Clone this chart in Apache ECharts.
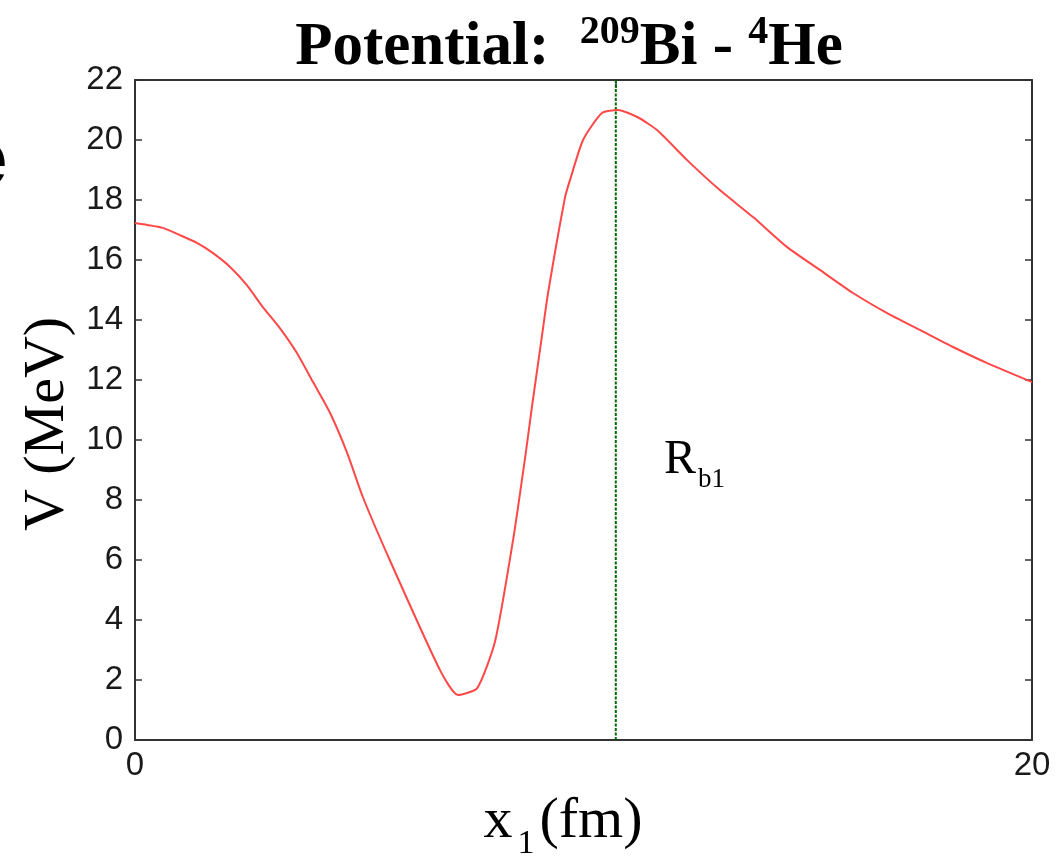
<!DOCTYPE html>
<html>
<head>
<meta charset="utf-8">
<script src="https://cdn.jsdelivr.net/npm/echarts@6/dist/echarts.min.js"></script>
<style>html,body{margin:0;padding:0;background:#fff}#c{width:1060px;height:864px}</style>
</head>
<body>
<div id="c"></div>
<script>
// Potential V(x1) for 209Bi - 4He
const xValues = [0, 0.27, 0.62, 1.0, 1.38, 1.74, 2.12, 2.49, 2.85, 3.23, 3.61, 3.97, 4.35, 4.73, 5.08, 5.68, 6.8, 7.2, 7.63, 8.03, 8.43, 8.70, 8.85, 9.07, 9.21, 9.59, 9.70, 9.99, 10.41, 10.77, 11.22, 11.64, 12.31, 13.04, 13.78, 14.54, 15.27, 16.01, 16.77, 17.5, 18.24, 18.99, 20];
const vValues = [17.23, 17.17, 17.07, 16.83, 16.57, 16.23, 15.77, 15.17, 14.43, 13.73, 12.9, 11.93, 10.9, 9.57, 8.1, 6.0, 2.33, 1.5, 1.73, 3.3, 6.67, 9.43, 11.1, 13.43, 14.9, 18.1, 18.67, 20.0, 20.9, 21.0, 20.75, 20.33, 19.33, 18.33, 17.43, 16.43, 15.67, 14.9, 14.23, 13.67, 13.1, 12.57, 11.93];
const barrierX = [10.72];
const yRange = [0, 22];
const xTickLabels = [0, 20];

const curve = xValues.map((x, i) => [x, vValues[i]]);
const barrierLine = [[barrierX[0], yRange[0]], [barrierX[0], yRange[1]]];

const chart = echarts.init(document.getElementById('c'));
const axisColor = '#333';
chart.setOption({
  backgroundColor: '#fff',
  animation: false,
  title: {
    left: 564, textAlign: 'center', top: 8,
    text: '{a|Potential:  }{s|209}{a|Bi - }{s|4}{a|He}',
    textStyle: {
      rich: {
        a: {fontFamily: 'Liberation Serif', fontWeight: 'bold', fontSize: 61, color: '#000', lineHeight: 66, verticalAlign: 'bottom'},
        s: {fontFamily: 'Liberation Serif', fontWeight: 'bold', fontSize: 40, color: '#000', lineHeight: 66, verticalAlign: 'top', padding: [0, 0, 24, 0]}
      }
    }
  },
  grid: {left: 135, top: 80, right: 28, bottom: 124, containLabel: false},
  xAxis: [{
    type: 'value', min: 0, max: 20, interval: 20,
    axisLine: {show: true, onZero: false, lineStyle: {color: axisColor, width: 2}},
    axisTick: {show: false},
    splitLine: {show: false},
    axisLabel: {fontFamily: 'Liberation Sans', fontSize: 33, color: '#1a1a1a', margin: 9,
      customValues: xTickLabels}
  }, {
    type: 'value', min: 0, max: 20, position: 'top',
    axisLine: {show: true, onZero: false, lineStyle: {color: axisColor, width: 2}},
    axisTick: {show: true, inside: true, length: 8, lineStyle: {color: axisColor, width: 1.5}, customValues: barrierX},
    axisLabel: {show: false},
    splitLine: {show: false}
  }],
  yAxis: [{
    type: 'value', min: yRange[0], max: yRange[1], interval: 2,
    axisLine: {show: true, onZero: false, lineStyle: {color: axisColor, width: 2}},
    axisTick: {show: true, inside: true, length: 7, lineStyle: {color: axisColor, width: 1.5}},
    splitLine: {show: false},
    axisLabel: {fontFamily: 'Liberation Sans', fontSize: 33, color: '#1a1a1a', margin: 12}
  }, {
    type: 'value', min: yRange[0], max: yRange[1], interval: 2, position: 'right',
    axisLine: {show: true, onZero: false, lineStyle: {color: axisColor, width: 2}},
    axisTick: {show: true, inside: true, length: 7, lineStyle: {color: axisColor, width: 1.5}},
    splitLine: {show: false},
    axisLabel: {show: false}
  }],
  graphic: [
    {type: 'text', x: 48, y: 424, rotation: Math.PI / 2, style: {text: 'V (MeV)', font: '58px "Liberation Serif"', fill: '#000', align: 'center', verticalAlign: 'middle'}},
    {type: 'text', x: 563, y: 822, style: {
      text: '{a|x}{b|1}{a|(fm)}',
      rich: {
        a: {fontFamily: 'Liberation Serif', fontSize: 58, fill: '#000'},
        b: {fontFamily: 'Liberation Serif', fontSize: 34, fill: '#000', padding: [44, 5, 0, 5]}
      },
      align: 'center', verticalAlign: 'middle'}},
    {type: 'text', x: 664, y: 460, style: {
      text: '{a|R}{b|b1}',
      rich: {
        a: {fontFamily: 'Liberation Serif', fontSize: 48, fill: '#000'},
        b: {fontFamily: 'Liberation Serif', fontSize: 27, fill: '#000', padding: [40, 0, 0, 2]}
      },
      align: 'left', verticalAlign: 'middle'}},
    {type: 'text', x: -37, y: 163, style: {text: 'e', font: 'bold 80px "Liberation Sans"', fill: '#000', align: 'left', verticalAlign: 'middle'}}
  ],
  series: [{
    type: 'line', data: curve, xAxisIndex: 0, yAxisIndex: 0, showSymbol: false, smooth: 0.2,
    lineStyle: {color: '#ff4848', width: 2}, z: 3
  }, {
    type: 'line', data: barrierLine, xAxisIndex: 0, yAxisIndex: 0, showSymbol: false,
    lineStyle: {color: '#006a00', width: 2, type: [3, 1.5]}, z: 2
  }]
});
</script>
</body>
</html>
